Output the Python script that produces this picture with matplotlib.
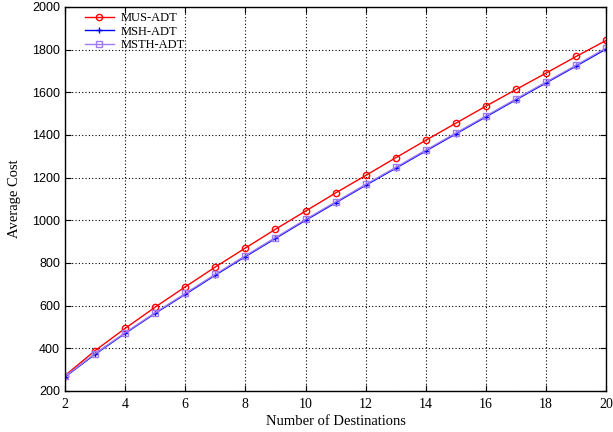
import numpy as np
import matplotlib.pyplot as plt

destinations = list(range(2, 21))
mus_adt = [272, 389, 493, 593, 688, 781, 870, 958, 1043, 1128, 1210, 1293,
           1375, 1455, 1535, 1613, 1690, 1768, 1843]
msh_adt = [266, 372, 470, 564, 653, 743, 830, 915, 1000, 1082, 1164, 1244,
           1325, 1405, 1485, 1565, 1644, 1723, 1803]
msth_adt = [268, 375, 473, 567, 657, 747, 834, 919, 1004, 1086, 1168, 1248,
            1329, 1409, 1489, 1569, 1648, 1727, 1808]

fig = plt.figure(figsize=(6.13, 4.32), dpi=100)
ax = fig.add_axes([0.106, 0.095, 0.883, 0.889])

ax.plot(destinations, mus_adt, color='#ff0000', lw=1.0, marker='o', ms=4.5,
        mfc='none', mew=1.0, label='MUS-ADT')
ax.plot(destinations, msh_adt, color='#0000ff', lw=1.0, marker='+', ms=5,
        mew=1.0, label='MSH-ADT')
ax.plot(destinations, msth_adt, color='#a07cf0', lw=1.0, marker='s', ms=4.5,
        mfc='none', mew=1.0, label='MSTH-ADT')

ax.set_xlim(2, 20)
ax.set_ylim(200, 2000)
ax.set_xticks(range(2, 21, 2))
ax.set_yticks(range(200, 2001, 200))
ax.grid(True, color='black', linestyle=(0, (1, 2)), linewidth=0.8)
ax.tick_params(direction='in', top=True, right=True, length=4, width=0.8)
ax.tick_params(axis='x', pad=5)
for lbl in ax.get_xticklabels():
    lbl.set_family('Liberation Serif')
    lbl.set_fontsize(10)
for lbl in ax.get_yticklabels():
    lbl.set_family('Liberation Sans')
    lbl.set_fontsize(9)
for sp in ax.spines.values():
    sp.set_linewidth(1.0)

ax.set_xlabel('Number of Destinations', family='Liberation Serif', fontsize=10.5, labelpad=3)
ax.set_ylabel('Average Cost', family='Liberation Serif', fontsize=10.5, labelpad=8)

leg = ax.legend(loc='upper left', frameon=False, prop={'family': 'Liberation Serif', 'size': 9},
                handlelength=2.3, labelspacing=0.12, borderaxespad=0.0, borderpad=0.2,
                handletextpad=0.6, bbox_to_anchor=(0.032, 0.993))
leg.set_zorder(5)

fig.savefig('out.png', dpi=100)
